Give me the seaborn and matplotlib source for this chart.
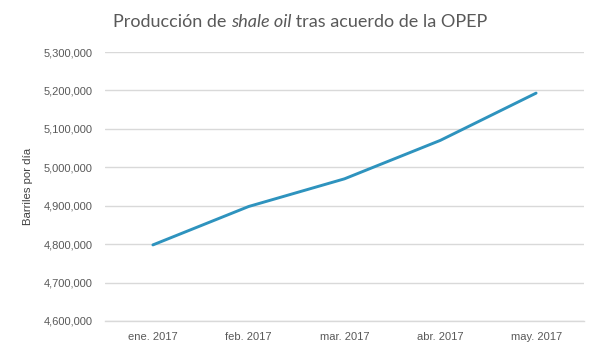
"""
line chart: shale oil production after OPEP agreement
"""
import matplotlib as mpl
mpl.use('Agg')
from matplotlib import pyplot as plt
from matplotlib.ticker import FuncFormatter, FixedLocator
import seaborn as sns
import pandas as pd

months = ['ene. 2017', 'feb. 2017', 'mar. 2017', 'abr. 2017', 'may. 2017']
barrels = [4798000, 4898000, 4970000, 5070000, 5193000]
y_ticks = [4600000, 4700000, 4800000, 4900000, 5000000, 5100000, 5200000, 5300000]

line_blue = '#2E93BE'
grey_text = '#595959'
grid_grey = '#D9D9D9'

sns.set_theme(style='white')
plt.rcParams['font.family'] = ['Liberation Sans', 'DejaVu Sans']

df = pd.DataFrame({'month': months, 'barrels': barrels})

fig = plt.figure(figsize=(6, 3.53), dpi=100)
ax = fig.add_axes([105/600, 1-321/353, (584-105)/600, (321-52)/353])

sns.lineplot(data=df, x='month', y='barrels', ax=ax, color=line_blue, lw=2.1, sort=False)

ax.set_xlim(-0.5, len(months) - 0.5)
ax.set_ylim(y_ticks[0], y_ticks[-1])
ax.set_yticks(y_ticks)
ax.yaxis.set_major_formatter(FuncFormatter(lambda v, p: f'{int(v):,}'))
ax.grid(True, axis='y', color=grid_grey, lw=1)
ax.set_axisbelow(True)

for s in ['top', 'right', 'left']:
    ax.spines[s].set_visible(False)
ax.spines['bottom'].set_color(grid_grey)
ax.spines['bottom'].set_linewidth(1)

ax.tick_params(axis='y', length=0, pad=9, labelsize=8, labelcolor=grey_text)
ax.tick_params(axis='x', which='major', length=0, pad=8, labelsize=8, labelcolor=grey_text)
ax.xaxis.set_minor_locator(FixedLocator([i - 0.5 for i in range(len(months) + 1)]))
ax.tick_params(axis='x', which='minor', length=3.5, width=1, color=grid_grey)

ax.set_xlabel('')
ax.set_ylabel('Barriles por día', fontsize=8.2, color='#404040')
ax.yaxis.set_label_coords(-0.15, 0.5)

# title with italic part, laid out piece by piece
parts = [('Producción de ', 'normal'), ('shale oil', 'italic'), (' tras acuerdo de la OPEP', 'normal')]
fig.canvas.draw()
r = fig.canvas.get_renderer()
texts = []
for s, st in parts:
    t = fig.text(0, 1 - 22/353, s, fontsize=13, style=st, color=grey_text,
                 va='center', ha='left', family=['Lato', 'DejaVu Sans'])
    texts.append(t)
widths = [t.get_window_extent(r).width for t in texts]
x0 = (600 - sum(widths)) / 2
for t, wd in zip(texts, widths):
    t.set_x(x0 / 600)
    x0 += wd

fig.savefig('out.png', dpi=100)
